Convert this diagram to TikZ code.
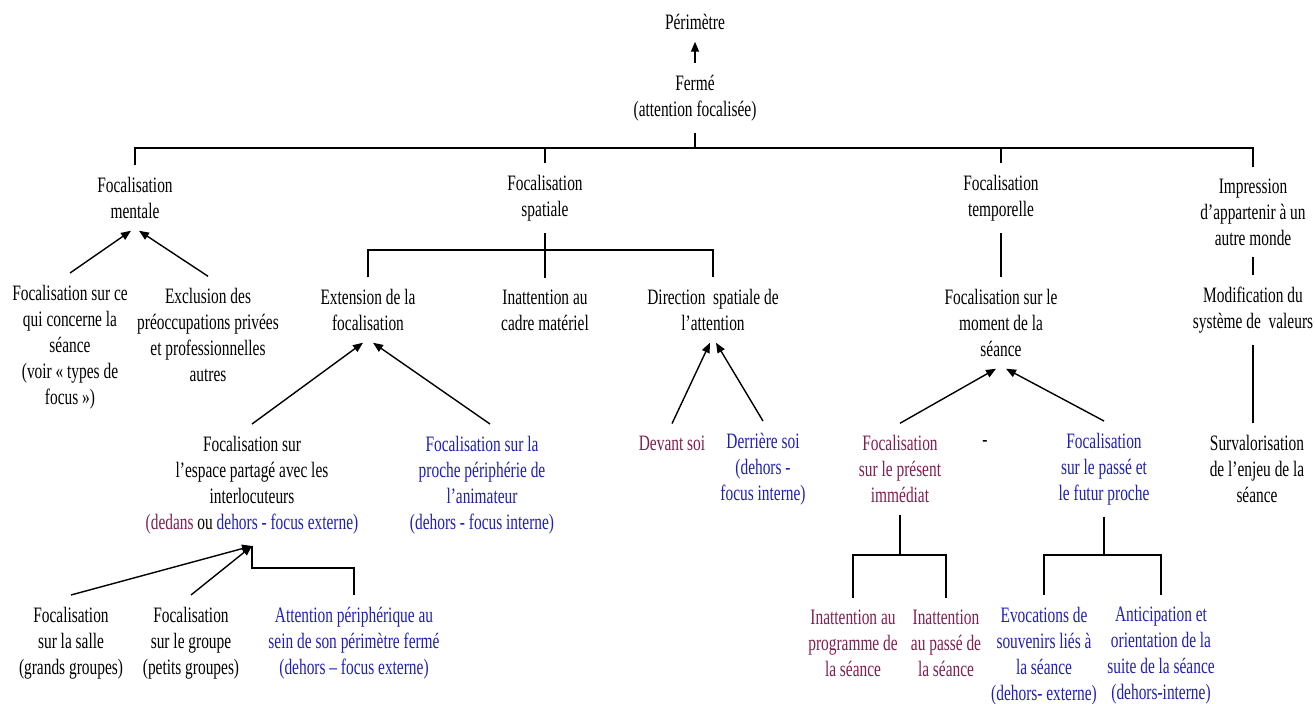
\documentclass[tikz,border=0pt]{standalone}
\usepackage{fontspec}
\setmainfont{Liberation Serif}[FakeStretch=0.70]
\usetikzlibrary{arrows.meta,calc}
\definecolor{bordeaux}{HTML}{7F1F4F}
\definecolor{bleu}{HTML}{2020B0}
\tikzset{
  txt/.style={align=center, inner sep=0pt, outer ysep=6pt, font=\fontsize{11}{13}\selectfont},
  rouge/.style={txt, text=bordeaux},
  bleue/.style={txt, text=bleu}
}
\begin{document}
\begin{tikzpicture}[x=0.5pt, y=-0.5pt, line width=0.7pt, >={Triangle[length=5pt,width=4pt]}]
      \useasboundingbox (0,0) rectangle (1315,704);
      \node[txt] (per) at (695, 22) {Périmètre};
      \node[txt] (fer) at (695, 98) {Fermé\\(attention focalisée)};
      \node[txt] (ment) at (135, 198) {Focalisation\\mentale};
      \node[txt] (spa) at (545, 198) {Focalisation\\spatiale};
      \node[txt] (tmp) at (1001, 198) {Focalisation\\temporelle};
      \node[txt] (imp) at (1253, 212) {Impression\\d’appartenir à un\\autre monde};
      \node[txt] (ce) at (70, 347) {Focalisation sur ce\\qui concerne la\\séance\\(voir «~types de\\focus~»)};
      \node[txt] (excl) at (208, 335) {Exclusion des\\préoccupations privées\\et professionnelles\\autres};
      \node[txt] (ext) at (368, 310) {Extension de la\\focalisation};
      \node[txt] (inat) at (545, 310) {Inattention au\\cadre matériel};
      \node[txt] (dir) at (713, 310) {Direction\ \ spatiale de\\l’attention};
      \node[txt] (mom) at (1001, 323) {Focalisation sur le\\moment de la\\séance};
      \node[txt] (mod) at (1253, 310) {Modification du\\système de\ \ valeurs};
      \node[txt] (esp) at (252, 485) {Focalisation sur\\l’espace partagé avec les\\interlocuteurs\\{\color{bordeaux}(dedans} ou {\color{bleu}dehors - focus externe)}};
      \node[bleue] (anim) at (482, 485) {Focalisation sur la\\proche périphérie de\\l’animateur\\(dehors - focus interne)};
      \node[rouge] (dev) at (672, 443) {Devant soi};
      \node[bleue] (der) at (763, 469) {Derrière soi\\(dehors -\\focus interne)};
      \node[rouge] (pres) at (900, 469) {Focalisation\\sur le présent\\immédiat};
      \node[txt] (tiret) at (985, 443) {-};
      \node[bleue] (pass) at (1104, 469) {Focalisation\\sur le passé et\\le futur proche};
      \node[txt] (surv) at (1257, 469) {Survalorisation\\de l’enjeu de la\\séance};
      \node[txt] (salle) at (71, 643) {Focalisation\\sur la salle\\(grands groupes)};
      \node[txt] (grp) at (191, 643) {Focalisation\\sur le groupe\\(petits groupes)};
      \node[bleue] (att) at (354, 643) {Attention périphérique au\\sein de son périmètre fermé\\(dehors – focus externe)};
      \node[rouge] (inprog) at (853, 643) {Inattention au\\programme de\\la séance};
      \node[rouge] (inpas) at (946, 643) {Inattention\\au passé de\\la séance};
      \node[bleue] (evoc) at (1044, 656) {Evocations de\\souvenirs liés à\\la séance\\(dehors- externe)};
      \node[bleue] (antic) at (1161, 656) {Anticipation et\\orientation de la\\suite de la séance\\(dehors-interne)};
      \coordinate (bar) at (695, 148);
      \coordinate (sbar) at (545, 250);
      \coordinate (ebar) at (252, 568);
      \coordinate (pbar) at (900, 555);
      \coordinate (fbar) at (1105, 555);
      \draw[->] (fer) to (per);
      \draw (fer) to (bar);
      \draw (ment.north) -- (ment.north |- bar) -- (imp.north |- bar) -- (imp.north);
      \draw (spa.north) -- (spa.north |- bar);
      \draw (tmp.north) -- (tmp.north |- bar);
      \draw[->] (ce.north) to ([xshift=-2pt]ment.south);
      \draw[->] (excl.north) to ([xshift=2pt]ment.south);
      \draw (spa.south) -- (sbar);
      \draw (ext.north) -- (ext.north |- sbar) -- (dir.north |- sbar) -- (dir.north);
      \draw (inat.north) -- (inat.north |- sbar);
      \draw[->] (esp.north) to ([xshift=-2.5pt]ext.south);
      \draw[->] ([xshift=4pt]anim.north) to ([xshift=2.5pt]ext.south);
      \draw[->] (dev.north) to ([xshift=-1.5pt]dir.south);
      \draw[->] (der.north) to ([xshift=1.5pt]dir.south);
      \draw (tmp.south) -- (mom.north);
      \draw[->] (pres.north) to ([xshift=-2.5pt]mom.south);
      \draw[->] (pass.north) to ([xshift=2.5pt]mom.south);
      \draw (imp.south) -- (mod.north);
      \draw (mod.south) -- (mod.south |- surv.north);
      \draw[->] (salle.north) to (esp.south);
      \draw[->] (grp.north) to (esp.south);
      \draw (esp.south) -- (ebar) -| (att.north);
      \draw (pres.south) -- (pbar);
      \draw (inprog.north) |- (pbar) -| (inpas.north);
      \draw (pass.south) -- (pass.south |- fbar);
      \draw (evoc.north) |- (fbar) -| (antic.north);
    \end{tikzpicture}
\end{document}
